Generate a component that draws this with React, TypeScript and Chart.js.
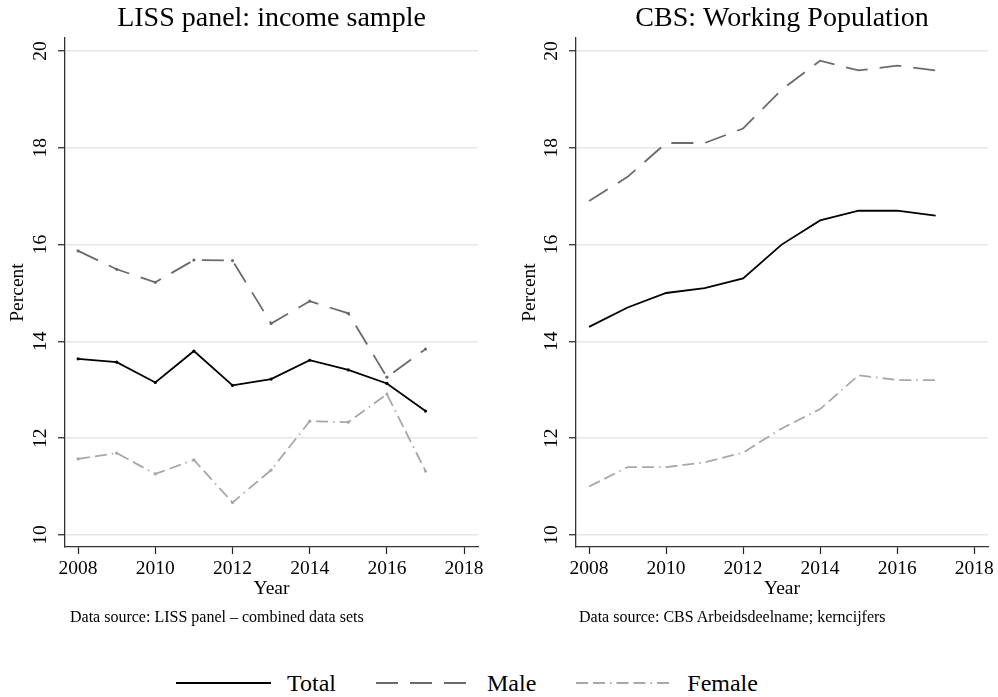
import React, { useEffect, useRef } from 'react';
import { Chart, registerables } from 'chart.js';

Chart.register(...registerables);

// ---- data ----
const years = [2008, 2009, 2010, 2011, 2012, 2013, 2014, 2015, 2016, 2017];

const lissTotal = [13.64, 13.57, 13.15, 13.8, 13.09, 13.22, 13.61, 13.41, 13.13, 12.56];
const lissMale = [15.87, 15.49, 15.22, 15.68, 15.67, 14.37, 14.83, 14.58, 13.26, 13.84];
const lissFemale = [11.57, 11.69, 11.26, 11.55, 10.67, 11.34, 12.35, 12.33, 12.91, 11.32];

const cbsTotal = [14.3, 14.7, 15.0, 15.1, 15.3, 16.0, 16.5, 16.7, 16.7, 16.6];
const cbsMale = [16.9, 17.4, 18.1, 18.1, 18.4, 19.2, 19.8, 19.6, 19.7, 19.6];
const cbsFemale = [11.0, 11.4, 11.4, 11.5, 11.7, 12.2, 12.6, 13.3, 13.2, 13.2];

const xTickValues = [2008, 2010, 2012, 2014, 2016, 2018];
const yTickValues = [10, 12, 14, 16, 18, 20];
const seriesNames = ['Total', 'Male', 'Female'];

const panelTitles = ['LISS panel: income sample', 'CBS: Working Population'];
const panelNotes = [
  'Data source: LISS panel \u2013 combined data sets',
  'Data source: CBS Arbeidsdeelname; kerncijfers',
];

// ---- styles ----
const FONT = "'Liberation Serif', 'Times New Roman', Times, serif";
const seriesStyle = [
  { color: '#000000', dash: [] as number[] },
  { color: '#6b6b6b', dash: [22, 12] },
  { color: '#a8a8a8', dash: [12, 5, 12, 5, 1.5, 5] },
];

type PanelProps = {
  title: string;
  series: number[][];
  left: number;
  yAxisWidth: number;
  padRight: number;
  yTitlePad: number;
  markers: boolean;
};

function Panel({ title, series, left, yAxisWidth, padRight, yTitlePad, markers }: PanelProps) {
  const ref = useRef<HTMLCanvasElement>(null);
  useEffect(() => {
    const axisFont = { family: FONT, size: 19.5, weight: 'normal' as const, lineHeight: 1.2 };
    const chart = new Chart(ref.current!, {
      type: 'line',
      data: {
        datasets: series.map((arr, i) => ({
          label: seriesNames[i],
          data: years.map((x, j) => ({ x, y: arr[j] })),
          borderColor: seriesStyle[i].color,
          backgroundColor: seriesStyle[i].color,
          borderWidth: 1.8,
          borderDash: seriesStyle[i].dash,
          pointRadius: markers ? 1.6 : 0,
          pointBorderWidth: 0,
          pointHoverRadius: 0,
          tension: 0,
          fill: false,
        })),
      },
      options: {
        responsive: false,
        animation: false,
        devicePixelRatio: 1,
        layout: { padding: { left: 0, right: padRight, top: 0, bottom: 0 } },
        plugins: {
          legend: { display: false },
          tooltip: { enabled: false },
          title: {
            display: true,
            text: title,
            fullSize: false,
            color: '#000',
            font: { family: FONT, size: 28, weight: 'normal', lineHeight: 1.2 },
            padding: { top: 2, bottom: 2.4 },
          },
        },
        scales: {
          x: {
            type: 'linear',
            min: 2007.66,
            max: 2018.36,
            afterBuildTicks: (s: any) => {
              s.ticks = xTickValues.map((v) => ({ value: v }));
            },
            afterFit: (s: any) => {
              s.height = 63;
            },
            ticks: {
              autoSkip: false,
              maxRotation: 0,
              minRotation: 0,
              padding: 3,
              color: '#000',
              font: axisFont,
              callback: (v: any) => String(v),
            },
            grid: {
              drawOnChartArea: false,
              drawTicks: true,
              tickLength: 7,
              tickColor: '#222',
              tickWidth: 1.2,
            },
            border: { display: true, color: '#333', width: 1.3 },
            title: {
              display: true,
              text: 'Year',
              color: '#000',
              font: axisFont,
              padding: { top: 0, bottom: 9 },
            },
          },
          y: {
            type: 'linear',
            min: 9.75,
            max: 20.27,
            afterBuildTicks: (s: any) => {
              s.ticks = yTickValues.map((v) => ({ value: v }));
            },
            afterFit: (s: any) => {
              s.width = yAxisWidth;
            },
            ticks: {
              autoSkip: false,
              minRotation: 90,
              maxRotation: 90,
              crossAlign: 'center',
              padding: 7,
              color: '#000',
              font: axisFont,
              callback: (v: any) => String(v),
            },
            grid: {
              color: '#e6e6e6',
              lineWidth: 1.5,
              drawTicks: true,
              tickLength: 7,
              tickColor: '#222',
              tickWidth: 1.2,
            },
            border: { display: true, color: '#333', width: 1.3 },
            title: {
              display: true,
              text: 'Percent',
              color: '#000',
              font: axisFont,
              padding: { top: yTitlePad, bottom: 0 },
            },
          },
        },
      },
    } as any);
    return () => chart.destroy();
  }, []);
  return (
    <canvas
      ref={ref}
      width={499}
      height={610}
      style={{ position: 'absolute', left, top: 0, width: 499, height: 610 }}
    />
  );
}

function LegendKey({ color, dash }: { color: string; dash: number[] }) {
  return (
    <svg width={95} height={8} style={{ display: 'block', marginRight: 16 }}>
      <line
        x1={0}
        y1={4}
        x2={95}
        y2={4}
        stroke={color}
        strokeWidth={2}
        strokeDasharray={dash.length ? dash.join(' ') : undefined}
      />
    </svg>
  );
}

export default function App() {
  return (
    <div
      style={{
        position: 'absolute',
        left: 0,
        top: 0,
        width: 998,
        height: 697,
        background: '#fff',
        fontFamily: FONT,
        color: '#000',
        overflow: 'hidden',
      }}
    >
      <Panel
        title={panelTitles[0]}
        series={[lissTotal, lissMale, lissFemale]}
        left={0}
        yAxisWidth={65}
        padRight={21}
        yTitlePad={6}
        markers={true}
      />
      <Panel
        title={panelTitles[1]}
        series={[cbsTotal, cbsMale, cbsFemale]}
        left={499}
        yAxisWidth={77}
        padRight={10}
        yTitlePad={19}
        markers={false}
      />
      <div style={{ position: 'absolute', left: 70, top: 609, fontSize: 16, lineHeight: '16px', whiteSpace: 'nowrap' }}>
        {panelNotes[0]}
      </div>
      <div style={{ position: 'absolute', left: 579, top: 609, fontSize: 16, lineHeight: '16px', whiteSpace: 'nowrap' }}>
        {panelNotes[1]}
      </div>
      <div
        style={{
          position: 'absolute',
          left: 176,
          top: 669,
          height: 28,
          display: 'flex',
          alignItems: 'center',
          whiteSpace: 'nowrap',
        }}
      >
        {seriesNames.map((name, i) => (
          <div key={name} style={{ display: 'flex', alignItems: 'center', marginRight: 40 }}>
            <LegendKey color={seriesStyle[i].color} dash={seriesStyle[i].dash} />
            <span style={{ fontSize: 24, lineHeight: '28px' }}>{name}</span>
          </div>
        ))}
      </div>
    </div>
  );
}
